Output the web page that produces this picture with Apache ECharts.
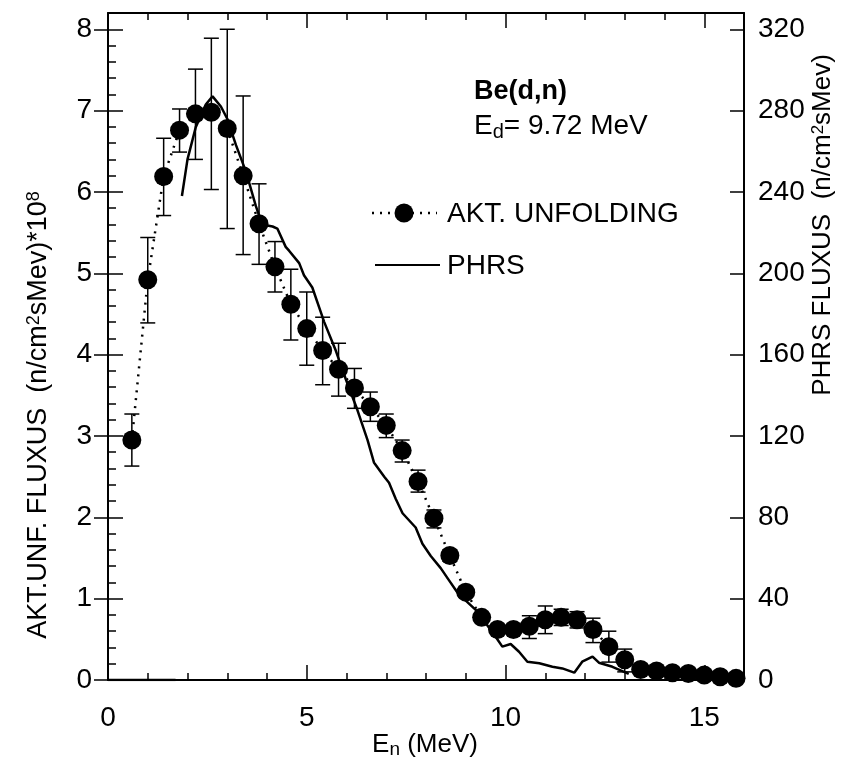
<!DOCTYPE html>
<html>
<head>
<meta charset="utf-8">
<script src="https://cdn.jsdelivr.net/npm/echarts@6/dist/echarts.min.js"></script>
<style>
html,body{margin:0;padding:0;background:#fff;}
#chart{width:859px;height:772px;}
</style>
</head>
<body>
<div id="chart"></div>
<script>
// ---- Data ----
const aktX = [0.6,1.0,1.4,1.8,2.2,2.6,3.0,3.4,3.8,4.2,4.6,5.0,5.4,5.8,6.2,6.6,7.0,7.4,7.8,8.2,8.6,9.0,9.4,9.8,10.2,10.6,11.0,11.4,11.8,12.2,12.6,13.0,13.4,13.8,14.2,14.6,15.0,15.4,15.8];
const aktY = [2.95,4.92,6.19,6.76,6.96,6.98,6.78,6.20,5.61,5.08,4.62,4.32,4.05,3.82,3.59,3.36,3.13,2.82,2.44,1.99,1.53,1.08,0.77,0.62,0.62,0.66,0.74,0.77,0.74,0.62,0.41,0.25,0.13,0.11,0.09,0.08,0.06,0.04,0.02];
const aktErrHi = [3.27,5.44,6.66,7.02,7.51,7.89,8.00,7.18,6.10,5.39,5.05,4.77,4.46,4.14,3.83,3.54,3.27,2.95,2.58,2.09,1.60,1.14,0.82,0.67,0.68,0.79,0.91,0.87,0.84,0.76,0.60,0.38,0.17,0.14,0.12,0.10,0.08,0.06,0.04];
const aktErrLo = [2.63,4.39,5.71,6.49,6.40,6.03,5.55,5.23,5.11,4.77,4.18,3.87,3.63,3.49,3.34,3.18,2.98,2.68,2.31,1.87,1.46,1.02,0.72,0.57,0.56,0.51,0.57,0.67,0.64,0.46,0.22,0.10,0.09,0.08,0.06,0.05,0.04,0.02,0.00];

const phrsX = [0,1.7,1.75,1.86,2.00,2.21,2.46,2.63,2.84,3.00,3.22,3.47,3.72,3.88,4.14,4.26,4.47,4.56,4.81,4.93,5.14,5.44,5.73,5.98,6.27,6.53,6.69,6.95,7.07,7.24,7.41,7.74,7.91,8.12,8.37,8.58,8.79,9.00,9.25,9.50,9.76,9.92,10.13,10.34,10.55,10.85,11.18,11.43,11.73,11.93,12.19,12.35,12.69,13.1];
const phrsY = [0,0,'-',238,256,272,283,287,282,276,263,250,233,224,223,222,213,211,205,199,193,176,162,148,133,118,107,100,97,89,82,75,67,61,55,49,43,39,34.5,28,21,16.4,17.7,13.9,9,8.2,6.5,5.7,3.6,9,11.5,8.5,6.5,3];

const xTicks = [0,5,10,15];
const yLeftTicks = [0,1,2,3,4,5,6,7,8];
const yRightTicks = [0,40,80,120,160,200,240,280,320];

// minor tick positions
const xMinor = [];
for (let i = 1; i <= 16; i++) if (i % 5) xMinor.push(i);
const yMinor = [];
for (let i = 1; i <= 41; i++) if (i % 5) yMinor.push(+(i * 0.2).toFixed(1));

const FONT = '"Liberation Sans", Arial, Helvetica, sans-serif';
const FS = 28;
const black = '#000';

const chart = echarts.init(document.getElementById('chart'), null, {renderer: 'canvas'});

function xAx(pos, ticks, len, showLine, labels) {
  return {
    type: 'value', min: 0, max: 16, position: pos,
    axisLine: {show: showLine, onZero: false, lineStyle: {color: black, width: 2}},
    axisTick: {show: true, inside: true, length: len, customValues: ticks, lineStyle: {color: black, width: 1.5}},
    axisLabel: labels ? {show: true, customValues: labels, color: black, fontSize: FS, fontFamily: FONT, margin: 24} : {show: false},
    splitLine: {show: false}
  };
}
function yAx(pos, max, ticks, len, inside, showLine, labels, margin) {
  return {
    type: 'value', min: 0, max: max, position: pos,
    axisLine: {show: showLine, onZero: false, lineStyle: {color: black, width: 2}},
    axisTick: {show: true, inside: inside, length: len, customValues: ticks, lineStyle: {color: black, width: 1.5}},
    axisLabel: labels ? {show: true, customValues: labels, color: black, fontSize: FS, fontFamily: FONT, margin: margin} : {show: false},
    splitLine: {show: false}
  };
}

const errData = aktX.map((x, i) => [x, aktErrHi[i], aktErrLo[i]]);

const option = {
  backgroundColor: '#fff',
  animation: false,
  textStyle: {fontFamily: FONT},
  grid: {left: 108, right: 115, top: 13, bottom: 92, containLabel: false},
  xAxis: [
    xAx('bottom', xTicks, 15, true, xTicks),
    xAx('bottom', xMinor, 7, false, null),
    xAx('top', xTicks, 15, true, null),
    xAx('top', xMinor, 7, false, null)
  ],
  yAxis: [
    yAx('left', 8.2, yLeftTicks, 15, true, true, yLeftTicks, 16),
    yAx('right', 328, yRightTicks, 14, true, true, yRightTicks, 14),
    yAx('left', 8.2, yMinor, 8, true, false, null, 0),
    yAx('left', 8.2, yLeftTicks, 14, false, false, null, 0)
  ],
  series: [
    {
      name: 'err', type: 'custom', xAxisIndex: 0, yAxisIndex: 0, z: 2,
      data: errData,
      renderItem: function (params, api) {
        const x = api.value(0);
        const p1 = api.coord([x, api.value(1)]);
        const p2 = api.coord([x, api.value(2)]);
        const w = 7.5;
        const st = {stroke: black, lineWidth: 1.5};
        return {type: 'group', children: [
          {type: 'line', shape: {x1: p1[0], y1: p1[1], x2: p2[0], y2: p2[1]}, style: st},
          {type: 'line', shape: {x1: p1[0] - w, y1: p1[1], x2: p1[0] + w, y2: p1[1]}, style: st},
          {type: 'line', shape: {x1: p2[0] - w, y1: p2[1], x2: p2[0] + w, y2: p2[1]}, style: st}
        ]};
      },
      silent: true
    },
    {
      name: 'PHRS', type: 'line', xAxisIndex: 0, yAxisIndex: 1, z: 3,
      data: phrsX.map((x, i) => [x, phrsY[i]]),
      showSymbol: false, symbol: 'none', connectNulls: false,
      lineStyle: {color: black, width: 2.5},
      itemStyle: {color: black}
    },
    {
      name: 'AKT. UNFOLDING', type: 'line', xAxisIndex: 0, yAxisIndex: 0, z: 4,
      data: aktX.map((x, i) => [x, aktY[i]]),
      symbol: 'circle', symbolSize: 19, showSymbol: true,
      lineStyle: {color: black, width: 2.5, type: [2, 6]},
      itemStyle: {color: black}
    }
  ],
  graphic: [
    // legend
    {type: 'line', shape: {x1: 372, y1: 213, x2: 437, y2: 213}, style: {stroke: black, lineWidth: 2.5, lineDash: [2, 6]}},
    {type: 'circle', shape: {cx: 404, cy: 213, r: 9.5}, style: {fill: black}},
    {type: 'text', x: 447, y: 214, style: {text: 'AKT. UNFOLDING', font: FS + 'px ' + FONT, fill: black, verticalAlign: 'middle'}},
    {type: 'line', shape: {x1: 375, y1: 265, x2: 440, y2: 265}, style: {stroke: black, lineWidth: 2}},
    {type: 'text', x: 447, y: 266, style: {text: 'PHRS', font: FS + 'px ' + FONT, fill: black, verticalAlign: 'middle'}},
    // annotation
    {type: 'text', x: 474, y: 92, style: {text: 'Be(d,n)', font: 'bold 27px ' + FONT, fill: black, verticalAlign: 'middle'}},
    {type: 'text', x: 474, y: 126, style: {
      text: 'E{sub|d}= 9.72 MeV', fill: black, font: '28px ' + FONT, verticalAlign: 'middle',
      rich: {sub: {fontSize: 20, fontFamily: FONT, verticalAlign: 'bottom', padding: [12,0,0,0], fill: black}}
    }},
    // axis titles
    {type: 'text', x: 39, y: 415, rotation: Math.PI / 2, style: {
      text: 'AKT.UNF. FLUXUS  (n/cm{sup|2}sMev)*10{sup|8}', fill: black, font: '27px ' + FONT,
      align: 'center', verticalAlign: 'middle',
      rich: {sup: {fontSize: 18, fontFamily: FONT, verticalAlign: 'top', padding: [0,0,10,0], fill: black}}
    }},
    {type: 'text', x: 823, y: 225, rotation: Math.PI / 2, style: {
      text: 'PHRS FLUXUS  (n/cm{sup|2}sMev)', fill: black, font: '26px ' + FONT,
      align: 'center', verticalAlign: 'middle',
      rich: {sup: {fontSize: 17, fontFamily: FONT, verticalAlign: 'top', padding: [0,0,10,0], fill: black}}
    }},
    {type: 'text', x: 425, y: 745, style: {
      text: 'E{sub|n} (MeV)', fill: black, font: '26px ' + FONT,
      align: 'center', verticalAlign: 'middle',
      rich: {sub: {fontSize: 19, fontFamily: FONT, verticalAlign: 'bottom', padding: [10,0,0,0], fill: black}}
    }}
  ]
};
chart.setOption(option);
</script>
</body>
</html>
